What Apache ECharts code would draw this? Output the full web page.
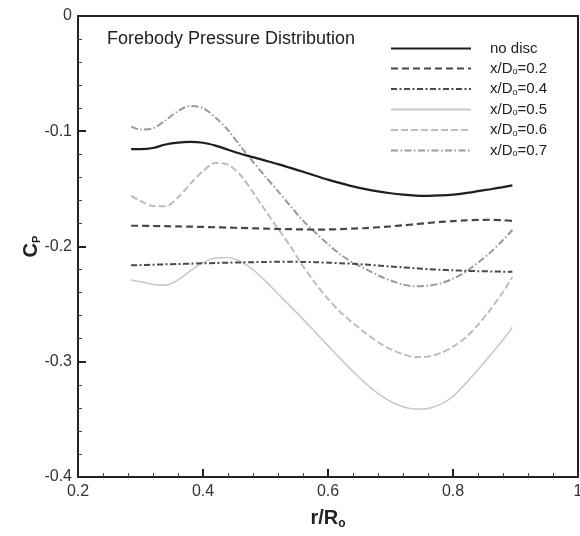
<!DOCTYPE html>
<html>
<head>
<meta charset="utf-8">
<script src="https://cdn.jsdelivr.net/npm/echarts@6/dist/echarts.min.js"></script>
<style>html,body{margin:0;padding:0;background:#fff;overflow:hidden}#c{width:580px;height:536px}</style>
</head>
<body>
<div id="c"></div>
<script>
var r = [0.285,0.30,0.32,0.34,0.36,0.38,0.40,0.42,0.44,0.46,0.48,0.50,0.52,0.54,0.56,0.58,0.60,0.62,0.64,0.66,0.68,0.70,0.72,0.74,0.76,0.78,0.80,0.82,0.84,0.86,0.88,0.895];
var noDisc = [-0.1155,-0.1155,-0.1145,-0.1115,-0.1098,-0.1092,-0.1100,-0.1125,-0.1160,-0.1195,-0.1225,-0.1255,-0.1285,-0.1318,-0.1352,-0.1386,-0.1420,-0.1450,-0.1478,-0.1502,-0.1522,-0.1538,-0.1550,-0.1558,-0.1560,-0.1557,-0.1550,-0.1537,-0.1520,-0.1503,-0.1485,-0.1470];
var d02 = [-0.1820,-0.1820,-0.1822,-0.1824,-0.1826,-0.1828,-0.1830,-0.1833,-0.1836,-0.1839,-0.1842,-0.1845,-0.1848,-0.1850,-0.1852,-0.1853,-0.1852,-0.1849,-0.1845,-0.1840,-0.1833,-0.1825,-0.1816,-0.1806,-0.1796,-0.1787,-0.1779,-0.1773,-0.1769,-0.1768,-0.1772,-0.1778];
var d04 = [-0.2163,-0.2161,-0.2158,-0.2155,-0.2152,-0.2149,-0.2146,-0.2143,-0.2140,-0.2138,-0.2136,-0.2134,-0.2133,-0.2133,-0.2134,-0.2136,-0.2140,-0.2145,-0.2150,-0.2157,-0.2165,-0.2173,-0.2181,-0.2189,-0.2196,-0.2202,-0.2207,-0.2211,-0.2214,-0.2216,-0.2218,-0.2219];
var d05 = [-0.2290,-0.2305,-0.2330,-0.2335,-0.2290,-0.2210,-0.2140,-0.2100,-0.2095,-0.2130,-0.2200,-0.2300,-0.2410,-0.2520,-0.2630,-0.2745,-0.2860,-0.2975,-0.3085,-0.3185,-0.3275,-0.3345,-0.3390,-0.3410,-0.3405,-0.3370,-0.3300,-0.3190,-0.3070,-0.2940,-0.2810,-0.2700];
var d06 = [-0.1560,-0.1605,-0.1648,-0.1650,-0.1575,-0.1455,-0.1345,-0.1275,-0.1290,-0.1380,-0.1530,-0.1690,-0.1845,-0.2000,-0.2170,-0.2320,-0.2455,-0.2570,-0.2665,-0.2750,-0.2830,-0.2890,-0.2935,-0.2960,-0.2955,-0.2925,-0.2870,-0.2790,-0.2680,-0.2545,-0.2395,-0.2265];
var d07 = [-0.0960,-0.0985,-0.0975,-0.0905,-0.0825,-0.0780,-0.0800,-0.0880,-0.0990,-0.1130,-0.1265,-0.1395,-0.1520,-0.1650,-0.1775,-0.1880,-0.1980,-0.2070,-0.2140,-0.2195,-0.2250,-0.2295,-0.2330,-0.2345,-0.2340,-0.2320,-0.2280,-0.2220,-0.2140,-0.2050,-0.1944,-0.1857];
var names = ['no disc','x/D0=0.2','x/D0=0.4','x/D0=0.5','x/D0=0.6','x/D0=0.7'];
var legendParts = [['no disc','',''],['x/D','o','=0.2'],['x/D','o','=0.4'],['x/D','o','=0.5'],['x/D','o','=0.6'],['x/D','o','=0.7']];
var titleText = 'Forebody Pressure Distribution';

function pairs(ys){ return r.map(function(x,i){ return [x, ys[i]]; }); }
var FONT = '"Liberation Sans", Arial, Helvetica, sans-serif';
var styles = [
  {color:'#1e1e1e', width:2.2, type:'solid'},
  {color:'#474747', width:2.2, type:[7,4]},
  {color:'#4a4a4a', width:2, type:[6,2.5,2,2.5]},
  {color:'#c9c9c9', width:1.6, type:'solid'},
  {color:'#bdbdbd', width:2, type:[7,3]},
  {color:'#9a9a9a', width:2, type:[7,2.5,1.5,2.5]}
];
var datas = [noDisc,d02,d04,d05,d06,d07];
var series = datas.map(function(d,i){
  return {
    name: names[i], type:'line', data: pairs(d), smooth:0.3, symbol:'none', showSymbol:false,
    xAxisIndex:0, yAxisIndex:0,
    lineStyle:{color:styles[i].color, width:styles[i].width, type:styles[i].type},
    itemStyle:{color:styles[i].color}, z: 10 - i
  };
});

var frameAxis = {axisLine:{show:true, onZero:false, lineStyle:{color:'#222', width:2}}, axisTick:{show:false}, axisLabel:{show:false}, splitLine:{show:false}};

var chart = echarts.init(document.getElementById('c'), null, {renderer:'canvas', width:580, height:536});
chart.setOption({
  animation:false,
  backgroundColor:'#fff',
  title:{text:titleText, left:102, top:25, textStyle:{fontFamily:FONT, fontSize:18, fontWeight:'normal', color:'#222'}},
  grid:{left:78, right:2, top:16, bottom:59, show:false, containLabel:false, outerBoundsMode:'none'},
  legend:{
    orient:'vertical', left:385, top:36, itemWidth:80, itemHeight:14, itemGap:5,
    data:names,
    itemStyle:{opacity:0},
    formatter:function(n){ var p = legendParts[names.indexOf(n)]; return p[1] ? '{m|'+p[0]+'}{s|'+p[1]+'}{m|'+p[2]+'}' : '{m|'+p[0]+'}'; },
    textStyle:{fontFamily:FONT, fontSize:15, color:'#222', padding:[0,0,0,14],
      rich:{m:{fontFamily:FONT, fontSize:15, color:'#222'}, s:{fontFamily:FONT, fontSize:9, color:'#222', verticalAlign:'bottom', padding:[7,0,0,0]}}}
  },
  xAxis:[{
    type:'value', min:0.2, max:1, interval:0.2, position:'bottom',
    name:'{m|r/R}{s|o}', nameLocation:'middle', nameGap:30, nameMoveOverlap:false,
    nameTextStyle:{rich:{m:{fontFamily:FONT, fontSize:20, fontWeight:'bold', color:'#222'}, s:{fontFamily:FONT, fontSize:12, fontWeight:'bold', color:'#222', padding:[11,0,0,0]}}},
    axisLine:{onZero:false, lineStyle:{color:'#222', width:2}},
    axisTick:{inside:true, length:8, lineStyle:{color:'#222', width:2}},
    minorTick:{show:true, splitNumber:5, length:4, lineStyle:{color:'#444', width:1}},
    splitLine:{show:false},
    axisLabel:{fontFamily:FONT, fontSize:16, color:'#333', margin:7}
  }, Object.assign({type:'value', min:0.2, max:1, position:'top'}, frameAxis)],
  yAxis:[{
    type:'value', min:-0.4, max:0, interval:0.1, position:'left',
    name:'{m|C}{s|P}', nameLocation:'middle', nameGap:36, nameRotate:90, nameMoveOverlap:false,
    nameTextStyle:{rich:{m:{fontFamily:FONT, fontSize:20, fontWeight:'bold', color:'#222'}, s:{fontFamily:FONT, fontSize:11, fontWeight:'bold', color:'#222', padding:[11,0,0,0]}}},
    axisLine:{onZero:false, lineStyle:{color:'#222', width:2}},
    axisTick:{inside:true, length:8, lineStyle:{color:'#222', width:2}},
    minorTick:{show:true, splitNumber:5, length:4, lineStyle:{color:'#444', width:1}},
    splitLine:{show:false},
    axisLabel:{fontFamily:FONT, fontSize:16, color:'#333', margin:6, formatter:function(v){ return v===0 ? '0' : String(Math.round(v*10)/10); }}
  }, Object.assign({type:'value', min:-0.4, max:0, position:'right'}, frameAxis)],
  series:series
});
</script>
</body>
</html>
